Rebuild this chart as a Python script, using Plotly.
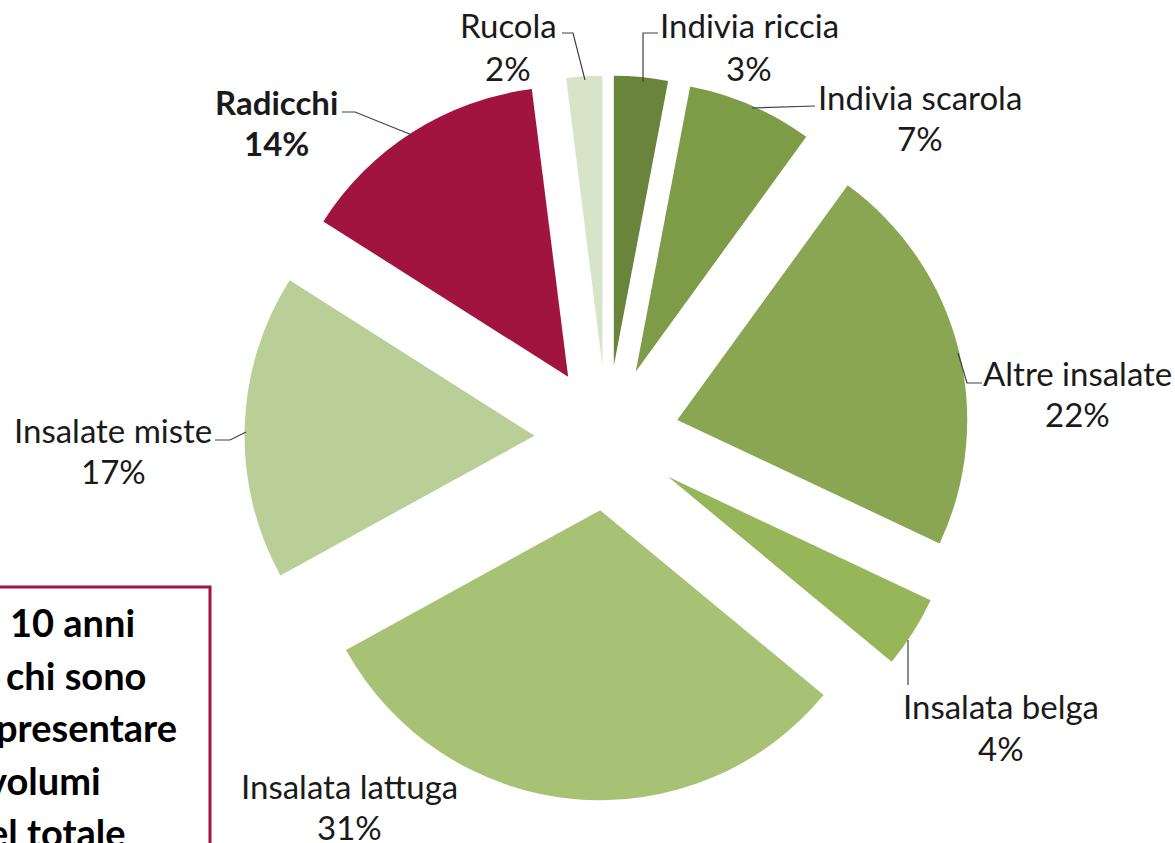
import plotly.graph_objects as go

# ---- data ----
labels = ["Indivia riccia", "Indivia scarola", "Altre insalate", "Insalata belga",
          "Insalata lattuga", "Insalate miste", "Radicchi", "Rucola"]
values = [3, 7, 22, 4, 31, 17, 14, 2]
colors = ["#6A843C", "#7E9B48", "#8AA653", "#97B659", "#A8C275", "#B9CF97", "#A0143F", "#D8E4C8"]
bold = [False, False, False, False, False, False, True, False]

box_lines = ["10 anni", "chi sono", "presentare", "volumi", "el totale"]

W, H = 1175, 843

def px(x):
    return x / W

def py(y):
    return 1 - y / H

# label layout (pixel centres of name line and percent line)
label_pos = {
    "Rucola": (508, 25, 68),
    "Indivia riccia": (749, 25, 68),
    "Indivia scarola": (920, 97, 138),
    "Altre insalate": (1077, 373, 414),
    "Insalata belga": (1001, 706, 748),
    "Insalata lattuga": (349, 786, 827),
    "Insalate miste": (113, 430, 471),
    "Radicchi": (276, 102, 143),
}
leaders = {
    "Rucola": [(562, 33), (573, 33), (585, 80)],
    "Indivia riccia": [(658, 33), (643, 33), (643, 82)],
    "Indivia scarola": [(815, 106), (752, 108)],
    "Altre insalate": [(982, 383), (967, 383), (958, 353)],
    "Insalata belga": [(908, 685), (908, 640)],
    "Insalate miste": [(215, 440), (230, 440), (246, 432)],
    "Radicchi": [(342, 112), (355, 112), (412, 135)],
}

fig = go.Figure(go.Pie(
    labels=labels,
    values=values,
    sort=False,
    direction="clockwise",
    rotation=0,
    pull=[0.25] * len(values),
    marker=dict(colors=colors, line=dict(width=0)),
    textinfo="none",
    hoverinfo="label+percent",
    showlegend=False,
    domain=dict(x=[244.5 / W, 969.5 / W], y=[1 - 800.5 / H, 1 - 75.5 / H]),
))

total = sum(values)
annotations = []
for lab, val, b in zip(labels, values, bold):
    cx, y1, y2 = label_pos[lab]
    pct = f"{round(100 * val / total)}%"
    for txt, yy in ((lab, y1), (pct, y2)):
        annotations.append(dict(
            x=px(cx), y=py(yy), xref="paper", yref="paper",
            text=f"<b>{txt}</b>" if b else txt, showarrow=False,
            xanchor="center", yanchor="middle",
            font=dict(family="Lato", size=33, color="#1a1a1a"),
        ))

shapes = []
for lab, pts in leaders.items():
    path = "M " + " L ".join(f"{px(x)},{py(y)}" for x, y in pts)
    shapes.append(dict(type="path", xref="paper", yref="paper", path=path,
                       line=dict(color="#404040", width=1.2)))

# text box (partially outside the canvas)
shapes.append(dict(type="rect", xref="paper", yref="paper",
                   x0=px(-20), x1=px(210), y0=py(870), y1=py(587),
                   line=dict(color="#A0143F", width=3), fillcolor="rgba(0,0,0,0)"))
box_right = [137, 148, 179, 103, 128]
box_y = [622, 675, 727, 780, 832]
for txt, xr, yy in zip(box_lines, box_right, box_y):
    annotations.append(dict(
        x=px(xr), y=py(yy), xref="paper", yref="paper",
        text=f"<b>{txt}</b>", showarrow=False,
        xanchor="right", yanchor="middle",
        font=dict(family="Lato", size=38, color="#000000"),
    ))

fig.update_layout(
    width=W, height=H,
    margin=dict(l=0, r=0, t=0, b=0),
    paper_bgcolor="white", plot_bgcolor="white",
    annotations=annotations, shapes=shapes,
)

fig.write_html("out.html",
               config={"displayModeBar": False},
               post_script="document.body.style.margin='0';document.body.style.overflow='hidden';")
